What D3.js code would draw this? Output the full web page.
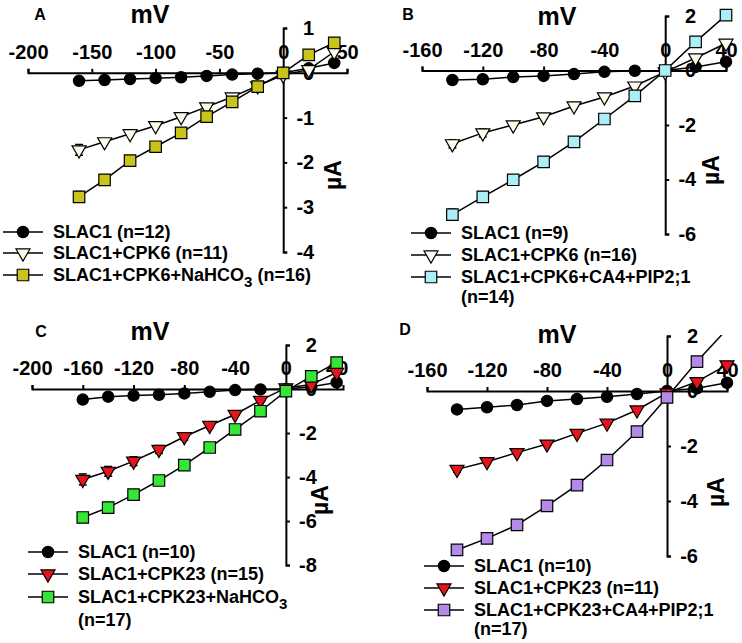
<!DOCTYPE html>
<html>
<head>
<meta charset="utf-8">
<script src="https://cdn.jsdelivr.net/npm/d3@7/dist/d3.min.js"></script>
<style>
  body { margin: 0; background: #fff; }
  svg { display: block; font-family: "Liberation Sans", Arial, sans-serif; font-weight: bold; }
</style>
</head>
<body>
<div id="chart"></div>
<script>
// Data (voltage in mV, current in µA)
const voltsA = [-160, -140, -120, -100, -80, -60, -40, -20, 0, 20, 40];
const voltsB = [-140, -120, -100, -80, -60, -40, -20, 0, 20, 40];
const voltsC = [-160, -140, -120, -100, -80, -60, -40, -20, 0, 20, 40];
const voltsD = [-140, -120, -100, -80, -60, -40, -20, 0, 20, 40];

const slac1A   = [-0.18, -0.16, -0.14, -0.12, -0.10, -0.07, -0.04, -0.02, 0, 0.10, 0.22];
const cpk6A    = [-1.72, -1.54, -1.36, -1.18, -0.98, -0.76, -0.54, -0.29, -0.05, 0.07, 0.47];
const cpk6NaA  = [-2.77, -2.39, -1.96, -1.65, -1.34, -0.98, -0.65, -0.31, 0, 0.40, 0.67];
const errCpk6A   = [0.12, 0, 0, 0, 0, 0, 0, 0, 0, 0, 0];
const errCpk6NaA = [0.12, 0, 0, 0, 0, 0, 0, 0, 0, 0, 0];

const slac1B   = [-0.35, -0.32, -0.24, -0.20, -0.13, -0.05, -0.01, 0, 0.13, 0.32];
const cpk6B    = [-2.69, -2.29, -2.00, -1.70, -1.30, -0.97, -0.57, -0.05, 0.46, 1.00];
const cpk6PipB = [-5.29, -4.64, -4.01, -3.35, -2.62, -1.78, -0.93, 0, 1.05, 2.03];
const errCpk6B   = [0.15, 0.15, 0, 0, 0, 0, 0, 0, 0, 0];
const errCpk6PipB = [0.2, 0.18, 0.12, 0, 0, 0, 0, 0, 0, 0];

const slac1C    = [-0.48, -0.35, -0.30, -0.26, -0.20, -0.13, -0.05, -0.02, 0, 0.10, 0.30];
const cpk23C    = [-4.11, -3.74, -3.28, -2.75, -2.17, -1.66, -1.16, -0.52, 0.05, 0.20, 0.75];
const cpk23NaC  = [-5.84, -5.39, -4.80, -4.16, -3.46, -2.66, -1.84, -1.01, -0.10, 0.57, 1.20];
const errCpk23C   = [0.25, 0.22, 0.2, 0.18, 0.15, 0.12, 0, 0, 0, 0, 0];
const errCpk23NaC = [0.2, 0.15, 0, 0, 0, 0, 0, 0, 0, 0, 0];

const slac1D     = [-0.67, -0.59, -0.51, -0.36, -0.29, -0.21, -0.11, 0, 0.10, 0.30];
const cpk23D     = [-2.85, -2.57, -2.24, -1.93, -1.54, -1.17, -0.69, -0.07, 0.34, 0.95];
const cpk23PipD  = [-5.78, -5.36, -4.87, -4.18, -3.42, -2.51, -1.48, -0.23, 1.07, 2.25];
const errCpk23D  = [0.1, 0, 0, 0, 0, 0, 0, 0, 0, 0];

// Tick labels
const xTicksA = [-200, -150, -100, -50, 0, 50];
const xTicksB = [-160, -120, -80, -40, 0, 40];
const xTicksC = [-200, -160, -120, -80, -40, 0, 40];
const xTicksD = [-160, -120, -80, -40, 0, 40];
const yTicksA = [-4, -3, -2, -1, 0, 1];
const yTicksB = [-6, -4, -2, 0, 2];
const yTicksC = [-8, -6, -4, -2, 0, 2];
const yTicksD = [-6, -4, -2, 0, 2];

// Legend labels ("_" marks a subscript character, "\n" a second line)
const legendA = ["SLAC1 (n=12)", "SLAC1+CPK6 (n=11)", "SLAC1+CPK6+NaHCO_3 (n=16)"];
const legendB = ["SLAC1 (n=9)", "SLAC1+CPK6 (n=16)", "SLAC1+CPK6+CA4+PIP2;1\n(n=14)"];
const legendC = ["SLAC1 (n=10)", "SLAC1+CPK23 (n=15)", "SLAC1+CPK23+NaHCO_3\n(n=17)"];
const legendD = ["SLAC1 (n=10)", "SLAC1+CPK23 (n=11)", "SLAC1+CPK23+CA4+PIP2;1\n(n=17)"];

// Marker styles
const creamFill = "#fffbea";
const redFill = "#e8141c";

const panels = [
  {
    letter: "A", letterPos: [40, 20],
    xDomain: [-200, 50], xRange: [28, 347], yDomain: [-4, 1], yRange: [252, 28],
    xTicks: xTicksA, yTicks: yTicksA,
    mvPos: [150, 23], uaPos: [333, 175],
    volts: voltsA,
    series: [
      { values: slac1A, shape: "circle", fill: "#000" },
      { values: cpk6A, err: errCpk6A, shape: "triangle", fill: creamFill },
      { values: cpk6NaA, err: errCpk6NaA, shape: "square", fill: "#c9c31c" }
    ],
    legend: legendA, legendX: 3, legendY: [232, 253, 275], extraGap: 20
  },
  {
    letter: "B", letterPos: [408, 20],
    xDomain: [-160, 40], xRange: [422, 726], yDomain: [-6, 2], yRange: [234, 16],
    xTicks: xTicksB, yTicks: yTicksB,
    mvPos: [557, 25], uaPos: [711, 170],
    volts: voltsB,
    series: [
      { values: slac1B, shape: "circle", fill: "#000" },
      { values: cpk6B, err: errCpk6B, shape: "triangle", fill: creamFill },
      { values: cpk6PipB, err: errCpk6PipB, shape: "square", fill: "#aaeef6" }
    ],
    legend: legendB, legendX: 411, legendY: [233, 255, 277], extraGap: 20
  },
  {
    letter: "C", letterPos: [41, 337],
    xDomain: [-200, 45], xRange: [32, 343], yDomain: [-8, 2], yRange: [565, 345],
    xTicks: xTicksC, yTicks: yTicksC,
    mvPos: [150, 340], uaPos: [320, 500],
    volts: voltsC,
    series: [
      { values: slac1C, shape: "circle", fill: "#000" },
      { values: cpk23C, err: errCpk23C, shape: "triangle", fill: redFill },
      { values: cpk23NaC, err: errCpk23NaC, shape: "square", fill: "#36e636" }
    ],
    legend: legendC, legendX: 28, legendY: [552, 574, 597], extraGap: 23
  },
  {
    letter: "D", letterPos: [405, 335],
    xDomain: [-160, 40], xRange: [427, 727], yDomain: [-6, 2], yRange: [556, 336],
    xTicks: xTicksD, yTicks: yTicksD,
    mvPos: [557, 343], uaPos: [716, 492],
    volts: voltsD,
    series: [
      { values: slac1D, shape: "circle", fill: "#000" },
      { values: cpk23D, err: errCpk23D, shape: "triangle", fill: redFill },
      { values: cpk23PipD, shape: "square", fill: "#b48ae8" }
    ],
    legend: legendD, legendX: 424, legendY: [566, 588, 610], extraGap: 19
  }
];

const svg = d3.select("#chart")
  .append("svg")
  .attr("width", 742)
  .attr("height", 643);

function symbolPath(shape) {
  if (shape === "circle") return d3.symbol(d3.symbolCircle, 100)();
  if (shape === "square") return d3.symbol(d3.symbolSquare, 132)();
  return d3.symbol(d3.symbolTriangle, 85)();
}

function drawMarker(g, shape, fill, x, y) {
  g.append("path")
    .attr("d", symbolPath(shape))
    .attr("transform", `translate(${x},${y})` + (shape === "triangle" ? " rotate(180)" : ""))
    .attr("fill", fill)
    .attr("stroke", "#000")
    .attr("stroke-width", 1.2);
}

function writeLabel(textSel, str) {
  const parts = str.split(/_(.)/);
  parts.forEach((p, i) => {
    if (p === "") return;
    const t = textSel.append("tspan").text(p);
    if (i % 2 === 1) {
      t.attr("dy", 6).style("font-size", "15px");
    } else if (i > 0) {
      t.attr("dy", -6);
    }
  });
}

panels.forEach((p, pi) => {
  const x = d3.scaleLinear().domain(p.xDomain).range(p.xRange);
  const y = d3.scaleLinear().domain(p.yDomain).range(p.yRange);
  const g = svg.append("g");

  // Clip lines at top of y axis
  const clipId = "clip" + pi;
  svg.append("clipPath").attr("id", clipId)
    .append("rect")
    .attr("x", 0).attr("y", y(p.yDomain[1]) - 1)
    .attr("width", 742).attr("height", 643);

  // x-axis (labels above)
  const xAxis = g.append("g")
    .attr("transform", `translate(0,${y(0)})`)
    .call(d3.axisTop(x).tickValues(p.xTicks).tickFormat(d => String(d))
      .tickSizeInner(4).tickSizeOuter(4).tickPadding(10));
  xAxis.selectAll("text")
    .style("font-size", "20px")
    .style("font-family", "inherit")
    .attr("fill", "#000");

  // y-axis (labels right, right-aligned)
  const yAxis = g.append("g")
    .attr("transform", `translate(${x(0)},0)`)
    .call(d3.axisRight(y).tickValues(p.yTicks).tickFormat(d => String(d))
      .tickSizeInner(4).tickSizeOuter(4));
  yAxis.selectAll("text")
    .attr("x", 31)
    .attr("text-anchor", "end")
    .style("font-size", "20px")
    .style("font-family", "inherit")
    .attr("fill", "#000");

  g.selectAll(".domain, .tick line").attr("stroke", "#000").attr("stroke-width", 2);

  // Series
  p.series.forEach(s => {
    const pts = p.volts.map((v, i) => ({ v, c: s.values[i], e: s.err ? s.err[i] : 0 }));
    g.append("path")
      .datum(pts)
      .attr("clip-path", `url(#${clipId})`)
      .attr("fill", "none")
      .attr("stroke", "#000")
      .attr("stroke-width", 1.5)
      .attr("d", d3.line().x(d => x(d.v)).y(d => y(d.c)));

    pts.filter(d => d.e > 0).forEach(d => {
      const eb = g.append("g").attr("stroke", "#000").attr("stroke-width", 1.5);
      eb.append("line").attr("x1", x(d.v)).attr("x2", x(d.v))
        .attr("y1", y(d.c - d.e)).attr("y2", y(d.c + d.e));
      [d.c - d.e, d.c + d.e].forEach(val => {
        eb.append("line").attr("x1", x(d.v) - 4).attr("x2", x(d.v) + 4)
          .attr("y1", y(val)).attr("y2", y(val));
      });
    });

    pts.filter(d => d.c <= p.yDomain[1] + 0.1)
      .forEach(d => drawMarker(g, s.shape, s.fill, x(d.v), y(d.c)));
  });

  // Titles
  g.append("text")
    .attr("x", p.letterPos[0]).attr("y", p.letterPos[1])
    .attr("text-anchor", "middle")
    .style("font-size", "16px")
    .text(p.letter);

  g.append("text")
    .attr("x", p.mvPos[0]).attr("y", p.mvPos[1])
    .attr("text-anchor", "middle")
    .style("font-size", "25px")
    .text("mV");

  g.append("text")
    .attr("transform", `translate(${p.uaPos[0]},${p.uaPos[1]}) rotate(-90)`)
    .attr("text-anchor", "middle")
    .attr("dy", "0.35em")
    .style("font-size", "23px")
    .text("µA");

  // Legend
  p.legend.forEach((label, i) => {
    const ly = p.legendY[i];
    const s = p.series[i];
    g.append("line")
      .attr("x1", p.legendX).attr("x2", p.legendX + 40)
      .attr("y1", ly).attr("y2", ly)
      .attr("stroke", "#000").attr("stroke-width", 1.5);
    drawMarker(g, s.shape, s.fill, p.legendX + 20, ly);

    const lines = label.split("\n");
    lines.forEach((ln, li) => {
      const t = g.append("text")
        .attr("x", p.legendX + 50)
        .attr("y", ly + 6 + li * p.extraGap)
        .style("font-size", "18px");
      writeLabel(t, ln);
    });
  });
});
</script>
</body>
</html>
